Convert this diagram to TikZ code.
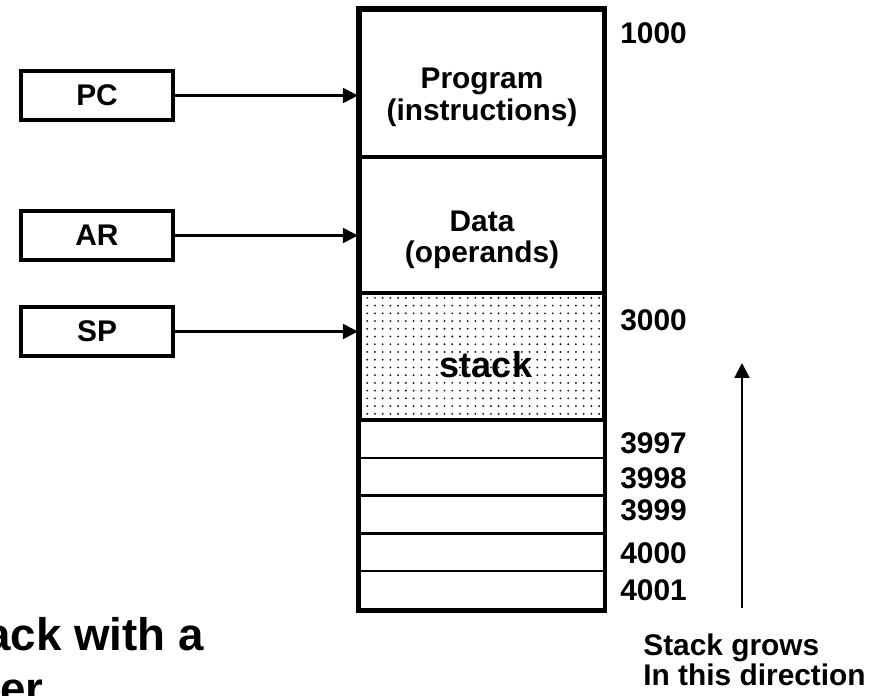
\documentclass[tikz,border=0pt]{standalone}
\usepackage{fontspec}
\setmainfont{Liberation Sans}
\usetikzlibrary{arrows.meta,patterns}

\pgfdeclarepatternformonly{memdots}{\pgfqpoint{-1pt}{-1pt}}{\pgfqpoint{5.4pt}{5.4pt}}{\pgfqpoint{4.4pt}{4.4pt}}{%
  \pgfpathcircle{\pgfqpoint{2.2pt}{2.2pt}}{0.6pt}\pgfusepath{fill}}

\tikzset{
  reg/.style={draw, line width=2.2pt, minimum width=3.04cm, minimum height=0.98cm, inner sep=0pt, font=\fontsize{17}{19}\selectfont\bfseries},
  seg/.style={draw, line width=2.4pt, minimum width=4.88cm},
  cell/.style={draw, line width=1.4pt, minimum width=4.88cm, minimum height=0.756cm},
  segtext/.style={align=center, inner sep=0pt, font=\fontsize{17}{18}\selectfont\bfseries},
  addr/.style={anchor=west, inner sep=0pt, font=\fontsize{17}{19}\selectfont\bfseries},
  ptr/.style={-{Triangle[length=8.5pt,width=8.5pt]}, line width=1.2pt},
}

\begin{document}
\begin{tikzpicture}[x=0.02cm, y=-0.02cm]
  \useasboundingbox (0,0) rectangle (879,696);

  %%%%% memory %%%%%
  \node[seg, minimum height=2.94cm] (prog) at (482,83.5) {};
  \node[seg, minimum height=2.72cm] (data) at (482,225) {};
  \node[seg, minimum height=2.54cm, pattern=memdots, pattern color=black!90] (stk) at (482,356.5) {};
  \foreach \i in {1,...,5}
    \node[cell] (cell\i) at (482,{420+37.8*(\i-0.5)}) {};
  \draw[line width=2.6pt] (prog.north west) rectangle (cell5.south east);

  \node[segtext] (progtxt) at (482,97.5) {Program\\(instructions)};
  \node[segtext] (datatxt) at (482,240) {Data\\(operands)};
  \node[segtext, font=\fontsize{20.5}{22}\selectfont\bfseries] (stktxt) at (486,365) {stack};

  %%%%% registers %%%%%
  \node[reg] (pc) at (97,95.5) {PC};
  \node[reg] (ar) at (97,235.5) {AR};
  \node[reg] (sp) at (97,331.5) {SP};
  \draw[ptr] (pc.east) -- (pc.east -| prog.west);
  \draw[ptr] (ar.east) -- (ar.east -| data.west);
  \draw[ptr] (sp.east) -- (sp.east -| stk.west);

  %%%%% addresses %%%%%
  \foreach \a/\y in {1000/33, 3000/320, 3997/443, 3998/478, 3999/510, 4000/553, 4001/590}
    \node[addr] (a\a) at (620,\y) {\a};

  %%%%% growth %%%%%
  \coordinate (growbase) at (742,608);
  \coordinate (growtip) at (742,363);
  \draw[ptr] (growbase) -- (growtip);
  \node[anchor=west, align=left, inner sep=0pt, font=\fontsize{17}{15}\selectfont\bfseries] (growtxt) at (643,660) {Stack grows\\In this direction};

  %%%%% title (cut by the page) %%%%%
  \node[anchor=base east, inner sep=0pt, font=\fontsize{26}{28}\selectfont\bfseries] (title1) at (204,650) {ack with a};
  \node[anchor=base west, inner sep=0pt, font=\fontsize{26}{28}\selectfont\bfseries] (title2) at (0,704) {er};
\end{tikzpicture}
\end{document}
